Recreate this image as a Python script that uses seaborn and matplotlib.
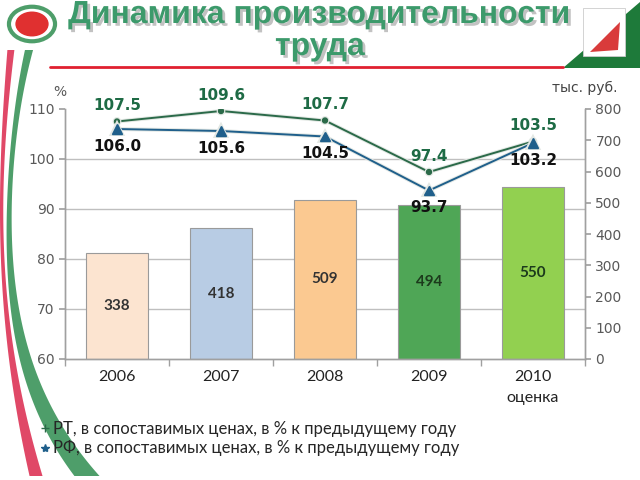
import numpy as np
import pandas as pd
import matplotlib.pyplot as plt
import matplotlib.patheffects as pe
from matplotlib.lines import Line2D
from matplotlib.patches import Circle, Polygon, Rectangle
from matplotlib.ticker import FixedLocator, MultipleLocator
import seaborn as sns

# data
years = ['2006', '2007', '2008', '2009', '2010\nоценка']
productivity = [338, 418, 509, 494, 550]          # тыс. руб.
rt_growth = [107.5, 109.6, 107.7, 97.4, 103.5]     # РТ, % к предыдущему году
rf_growth = [106.0, 105.6, 104.5, 93.7, 103.2]     # РФ, % к предыдущему году
bar_colors = ['#FCE4D0', '#B8CCE4', '#FBC991', '#4FA656', '#92D050']
left_ticks = [60, 70, 80, 90, 100, 110]
right_ticks = [0, 100, 200, 300, 400, 500, 600, 700, 800]

sns.set_theme(style='white')
plt.rcParams['font.family'] = ['DejaVu Sans']

df = pd.DataFrame({'year': years, 'value': productivity,
                   'rt': rt_growth, 'rf': rf_growth})

fig = plt.figure(figsize=(6.4, 4.8), dpi=100)
ax = fig.add_axes([65 / 640, 1 - 359 / 480, 520 / 640, 250 / 480])
ax2 = ax.twinx()

# bars on the right (тыс. руб.) axis, drawn underneath
sns.barplot(data=df, x='year', y='value', hue='year', palette=bar_colors,
            saturation=1, width=0.6, edgecolor='#9a9a9a', linewidth=0.8,
            legend=False, ax=ax2)
ax2.set_ylim(0, 800)
ax2.set_yticks(right_ticks)
ax2.set_ylabel('')
ax2.yaxis.set_minor_locator(FixedLocator([(t - 60) * 16 for t in left_ticks]))
ax2.grid(which='minor', axis='y', color='#BFBFBF', linewidth=1)
ax2.set_axisbelow(True)
ax2.tick_params(axis='y', which='major', labelsize=10, labelcolor='#595959',
                length=4, color='#A0A0A0', direction='out', right=True)
ax2.tick_params(axis='y', which='minor', length=0)
for i, cont in enumerate(ax2.containers):
    ax2.bar_label(cont, label_type='center', fontsize=11, fontweight='bold',
                  color='#1c3a1c' if i >= 3 else '#333333', family='Lato')

# lines on the left (%) axis, drawn on top
ax.set_zorder(ax2.get_zorder() + 1)
ax.patch.set_visible(False)
sns.pointplot(data=df, x='year', y='rt', color='#2B6A49', markers='o',
              markersize=3.5, linewidth=1.4, ax=ax)
sns.pointplot(data=df, x='year', y='rf', color='#1F5F8B', markers='^',
              markersize=6.5, linewidth=1.4, ax=ax)
for ln in ax.lines:
    ln.set_path_effects([pe.Stroke(linewidth=2.8, foreground='#e3e8e4'), pe.Normal()])
ax.set_ylim(60, 110)
ax.set_yticks(left_ticks)
ax.set_ylabel('')
ax.set_xlabel('')
ax2.set_xlabel('')
ax.set_xlim(-0.5, len(years) - 0.5)
ax.tick_params(axis='y', labelsize=10, labelcolor='#595959', length=4,
               color='#A0A0A0', direction='out', left=True)
ax.tick_params(axis='x', which='major', length=0, pad=8)
ax.xaxis.set_minor_locator(MultipleLocator(1, offset=0.5))
ax.tick_params(axis='x', which='minor', length=5, color='#A0A0A0',
               direction='out', bottom=True)
for lab in ax.get_xticklabels():
    lab.set_family('Lato')
    lab.set_fontsize(11.5)
    lab.set_color('#222222')
    lab.set_linespacing(1.6)
    lab.set_verticalalignment('top')
ax2.tick_params(axis='x', length=0)

for a in (ax, ax2):
    for side in ('left', 'right', 'bottom'):
        a.spines[side].set_color('#A0A0A0')
        a.spines[side].set_linewidth(1)
    a.spines['top'].set_visible(False)

for i, (rt, rf) in enumerate(zip(rt_growth, rf_growth)):
    ax.annotate(f'{rt:.1f}', (i, rt), xytext=(0, 6), textcoords='offset points',
                ha='center', va='bottom', fontsize=11, fontweight='bold',
                color='#1E6B45')
    ax.annotate(f'{rf:.1f}', (i, rf), xytext=(0, -7), textcoords='offset points',
                ha='center', va='top', fontsize=11, fontweight='bold',
                color='#111111')

fig.text(60 / 640, 1 - 92 / 480, '%', ha='center', va='center', fontsize=10,
         color='#595959')
fig.text(585 / 640, 1 - 88 / 480, 'тыс. руб.', ha='center', va='center',
         fontsize=10, color='#444444')

# title
shadow = [pe.withSimplePatchShadow(offset=(2, -2), shadow_rgbFace='#9a9a9a', alpha=0.6)]
fig.text(0.5, 1 - 15 / 480, 'Динамика производительности', ha='center',
         va='center', fontsize=23, fontweight='bold', family='Liberation Sans',
         color='#3C9A6B', path_effects=shadow)
fig.text(0.5, 1 - 47 / 480, 'труда', ha='center', va='center', fontsize=23,
         fontweight='bold', family='Liberation Sans', color='#3C9A6B',
         path_effects=shadow)
fig.add_artist(Line2D([50 / 640, 563 / 640], [1 - 67 / 480, 1 - 67 / 480],
                      color='#E02030', linewidth=2))

# legend
handles = [Line2D([], [], color='#2B6A49', marker='+', linestyle='none', markersize=6),
           Line2D([], [], color='#1F5F8B', marker='*', linestyle='none', markersize=6)]
fig.legend(handles, ['РТ, в сопоставимых ценах, в % к предыдущему году',
                     'РФ, в сопоставимых ценах, в % к предыдущему году'],
           loc='upper left', bbox_to_anchor=(25 / 640, 1 - 406 / 480),
           frameon=False, handlelength=0.6, handletextpad=0.2, labelspacing=0.2,
           prop={'family': 'Lato', 'size': 12}, labelcolor='#262626')


# decorations: side swooshes (centre line and width in pixels, smoothed)
def swoosh(knots_y, centre, width, color):
    yy = np.linspace(knots_y[0], knots_y[-1], 200)
    cx = np.polyval(np.polyfit(knots_y, centre, 4), yy)
    w = np.polyval(np.polyfit(knots_y, width, 3), yy)
    xs = np.concatenate([cx - w / 2, (cx + w / 2)[::-1]])
    ys = np.concatenate([yy, yy[::-1]])
    fig.add_artist(Polygon(np.column_stack([xs / 640, 1 - ys / 480]),
                           closed=True, transform=fig.transFigure,
                           facecolor=color, edgecolor='none'))


ky = [50, 100, 160, 240, 320, 400, 476]
swoosh(ky, [11, 6, 3, 2, 7, 19, 36], [7, 5, 4, 3, 5, 8, 13], '#E04867')
swoosh(ky, [29, 19, 12, 9, 17, 40, 87], [8, 6, 5, 5, 9, 16, 25], '#4E9E6A')

# logos
fig.add_artist(Circle((32 / 640, 1 - 24 / 480), 0.036, transform=fig.transFigure,
                      facecolor='#ffffff', edgecolor='#4E9E6A', linewidth=3))
fig.add_artist(Circle((32 / 640, 1 - 24 / 480), 0.026, transform=fig.transFigure,
                      facecolor='#E03030', edgecolor='none'))
fig.add_artist(Polygon([(563 / 640, 1 - 68 / 480), (640 / 640, 1 - 68 / 480),
                        (640 / 640, 1 - 2 / 480)], closed=True,
                       transform=fig.transFigure, facecolor='#1E7A3A',
                       edgecolor='none'))
fig.add_artist(Rectangle((583 / 640, 1 - 56 / 480), 42 / 640, 48 / 480,
                         transform=fig.transFigure, facecolor='#ffffff',
                         edgecolor='#cccccc', linewidth=0.6))
fig.add_artist(Polygon([(590 / 640, 1 - 52 / 480), (620 / 640, 1 - 22 / 480),
                        (618 / 640, 1 - 50 / 480)], closed=True,
                       transform=fig.transFigure, facecolor='#D93B3B',
                       edgecolor='none'))

fig.savefig('out.png', dpi=100)
